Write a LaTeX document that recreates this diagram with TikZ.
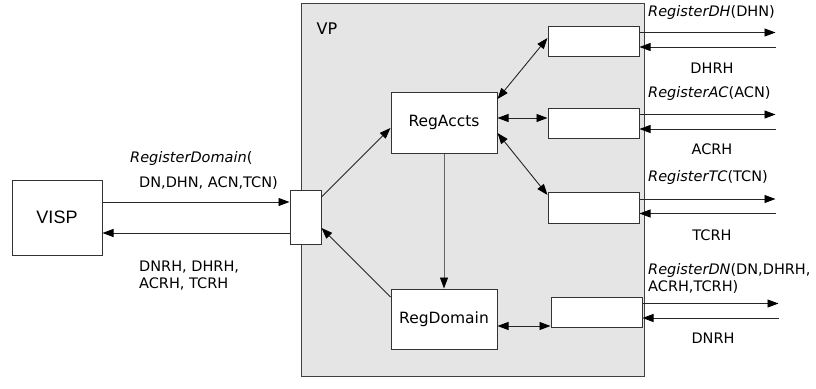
\documentclass[tikz,border=0pt]{standalone}
\usepackage{fontspec}
\setmainfont{DejaVu Sans}
\newfontfamily\vispfont{Liberation Sans}
\usetikzlibrary{arrows.meta}

\tikzset{
  tip/.tip={Triangle[length=11pt,width=8pt,black]},
  box/.style={draw=black!80, fill=white, inner sep=0pt, line width=1pt},
  arr/.style={-tip, black!85, line width=0.9pt},
  darr/.style={tip-tip, black!85, line width=0.9pt},
  lbl/.style={inner sep=0pt, font=\fontsize{14.5}{17}\selectfont}
}

\begin{document}
\begin{tikzpicture}[x=1pt,y=-1pt]
					\useasboundingbox (0,0) rectangle (816,388);
					% The VP area
					\draw[draw=black!75, fill=gray!20, line width=1pt] (301,3) rectangle (644,376);
					\node[lbl, font=\fontsize{16}{18}\selectfont] (vp) at (327,29) {VP};
					% Boxes
					\node[box, minimum width=90pt, minimum height=75pt, font=\vispfont\fontsize{18}{20}\selectfont] (visp) at (57,217.5) {VISP};
					\node[box, minimum width=31pt, minimum height=54pt] (port) at (305.5,217) {};
					\node[box, minimum width=106pt, minimum height=61pt, lbl, font=\fontsize{15.5}{17}\selectfont] (accts) at (444,122.5) {RegAccts};
					\node[box, minimum width=106pt, minimum height=60pt, lbl, font=\fontsize{15.5}{17}\selectfont] (domain) at (444,319) {RegDomain};
					\node[box, minimum width=91pt, minimum height=30pt] (rdh) at (593.5,41) {};
					\node[box, minimum width=91pt, minimum height=30pt] (rac) at (593.5,123) {};
					\node[box, minimum width=91pt, minimum height=31pt] (rtc) at (593.5,207.5) {};
					\node[box, minimum width=91pt, minimum height=30pt] (rdn) at (596.5,312) {};
					% VISP <-> VP
					\draw[arr] ([yshift=15.5pt]visp.east) -- ([yshift=15.5pt]visp.east -| port.west);
					\draw[arr] ([yshift=-15.5pt]visp.east -| port.west) -- ([yshift=-15.5pt]visp.east);
					% Inside VP
					\draw[arr] ([yshift=20pt]port.east) -- ([yshift=-5.5pt]accts.west);
					\draw[arr] ([yshift=22pt]domain.west) -- ([yshift=-11pt]port.east);
					\draw[arr, black!60] (accts.south) -- (domain.north);
					\draw[darr] ([yshift=23.5pt]accts.east) -- ([yshift=3pt]rdh.west);
					\draw[darr] ([yshift=4.5pt]accts.east) -- ([yshift=4.5pt]accts.east -| rac.west);
					\draw[darr] ([yshift=-10.5pt]accts.east) -- ([yshift=12.5pt]rtc.west);
					\draw[darr] ([yshift=-7pt]domain.east) -- ([yshift=-7pt]domain.east -| rdn.west);
					% Outgoing requests and replies
					\foreach \b in {rdh,rac,rtc,rdn}{
						\draw[arr] ([yshift=8.5pt]\b.east) -- ++(136,0);
						\draw[arr] ([yshift=-6pt]\b.east) ++(136,0) -- ([yshift=-6pt]\b.east);}
					% Labels
					\node[lbl, anchor=west] (lreq) at (130,158) {\textit{RegisterDomain}(};
					\node[lbl, anchor=west] (lreqargs) at (139,183) {DN,DHN, ACN,TCN)};
					\node[lbl, anchor=west, align=left] (lrep) at (139,275.5) {DNRH, DHRH,\\ACRH, TCRH};
					\node[lbl, anchor=west] (ldh) at (648,12) {\textit{RegisterDH}(DHN)};
					\node[lbl] (ldhr) at (712,68) {DHRH};
					\node[lbl, anchor=west] (lac) at (648,93) {\textit{RegisterAC}(ACN)};
					\node[lbl] (lacr) at (712,149) {ACRH};
					\node[lbl, anchor=west] (ltc) at (648,177) {\textit{RegisterTC}(TCN)};
					\node[lbl] (ltcr) at (712,235) {TCRH};
					\node[lbl, anchor=west, align=left] (ldn) at (648,278.5) {\textit{RegisterDN}(DN,DHRH,\\ACRH,TCRH)};
					\node[lbl] (ldnr) at (713,338) {DNRH};
				\end{tikzpicture}
\end{document}
